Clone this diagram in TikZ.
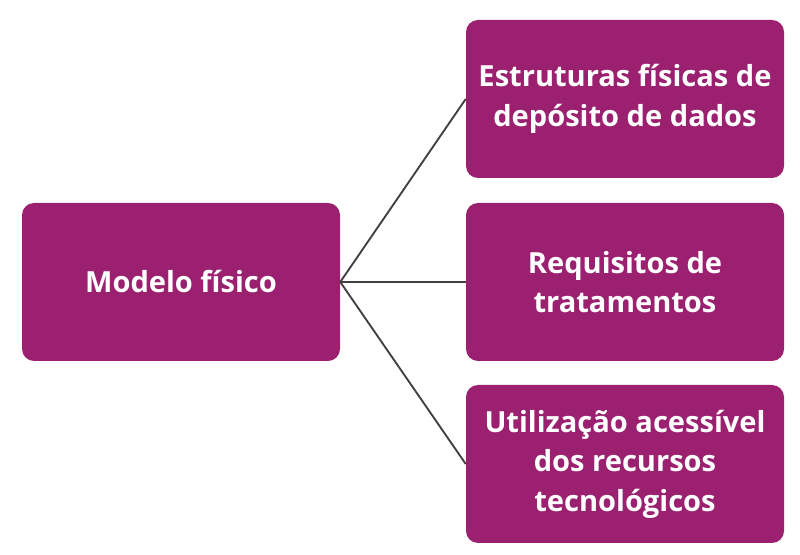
\documentclass[tikz,border=0pt]{standalone}
\usepackage{fontspec}
\setmainfont{Open Sans}
\usepackage{xcolor}
\usepackage{tikz}
\usetikzlibrary{positioning, calc}

\definecolor{ameixa}{HTML}{9B2170}
\definecolor{linha}{HTML}{404040}

\begin{document}
\begin{tikzpicture}[x=0.75pt,y=-0.75pt,
    caixa/.style={fill=ameixa,rounded corners=9pt,minimum width=238.5pt,minimum height=118.5pt,
      text=white,font=\fontsize{21.8}{29.6}\selectfont\bfseries,align=center,inner sep=0pt},
    ligacao/.style={draw=linha,line width=1.4pt}]
      \useasboundingbox (0,0) rectangle (800,555);

      \node[caixa] (modelo) at (181,282) {Modelo físico};

      \node[caixa] (estruturas) at (625,99) {Estruturas físicas de\\depósito de dados};
      \node[caixa] (requisitos) at (625,282) {Requisitos de\\tratamentos};
      \node[caixa] (utilizacao) at (625,464) {Utilização acessível\\dos recursos\\tecnológicos};

      \draw[ligacao] (modelo.east) -- (estruturas.west);
      \draw[ligacao] (modelo.east) -- (requisitos.west);
      \draw[ligacao] (modelo.east) -- (utilizacao.west);
    \end{tikzpicture}
\end{document}
